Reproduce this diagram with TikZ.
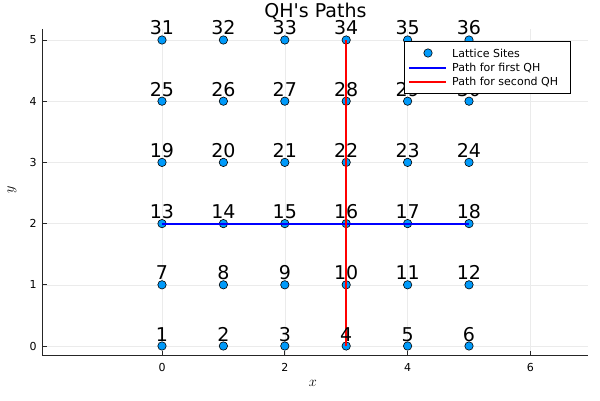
\documentclass[tikz,border=0pt]{standalone}
\usepackage{fontspec}
\setmainfont{DejaVu Sans}[Ligatures=TeXOff]
\definecolor{siteblue}{HTML}{009AFA}
\begin{document}
\begin{tikzpicture}[x=1pt,y=1pt,
  site/.style={circle,draw=black,line width=0.6pt,fill=siteblue,minimum size=8.4pt,inner sep=0pt},
  lab/.style={anchor=base,inner sep=0pt,font=\fontsize{19}{20}\selectfont},
  gridline/.style={draw=black!8,line width=0.6pt},
  axisline/.style={draw=black!85,line width=0.9pt},
  ticklab/.style={font=\fontsize{11}{12}\selectfont,inner sep=0pt},
  pathA/.style={draw=blue,line width=2pt},
  pathB/.style={draw=red,line width=2pt},
  legbox/.style={draw=black,fill=white,line width=0.8pt,minimum width=166pt,minimum height=52pt,inner sep=0pt},
  legtext/.style={anchor=west,inner sep=0pt,font=\fontsize{11}{12}\selectfont}]
\useasboundingbox (0,0) rectangle (600,400);
\node[font=\fontsize{19}{20}\selectfont] (title) at (315.5,388) {QH's Paths};
\begin{scope}[shift={(162pt,54pt)},x=61.4pt,y=61.2pt]
  % grid
  \foreach \gx in {0,2,4,6} \draw[gridline] (\gx,-0.147) -- (\gx,5.18);
  \foreach \gy in {0,...,5} \draw[gridline] (-1.94,\gy) -- (6.94,\gy);
  % axes
  \coordinate (o) at (-1.94,-0.147);
  \coordinate (xe) at (6.94,-0.147);
  \coordinate (ye) at (-1.94,5.18);
  \draw[axisline] (ye) -- (o) -- (xe);
  \foreach \gx in {0,2,4,6} {
    \draw[axisline] (\gx,-0.147) -- ++(0,4pt);
    \node[ticklab] (xt\gx) at ([yshift=-12pt]\gx,-0.147) {\gx};
  }
  \foreach \gy in {0,...,5} {
    \draw[axisline] (-1.94,\gy) -- ++(4pt,0);
    \node[ticklab,anchor=east] (yt\gy) at ([xshift=-6pt]-1.94,\gy) {\gy};
  }
  % sites
  \foreach \i in {0,...,5} \foreach \j in {0,...,5} {
    \pgfmathtruncatemacro\n{\j*6+\i+1}
    \node[site] (p\n) at (\i,\j) {};
  }
  % paths
  \draw[pathA] (p13.center) -- (p18.center);
  \draw[pathB] (p4.center) -- (p34.center);
  % labels
  \foreach \n in {1,...,36} \node[lab] (l\n) at ([yshift=5pt]p\n.center) {\n};
\end{scope}
\node[font=\fontsize{15}{16}\selectfont] (xlab) at (313,17) {$x$};
\node[font=\fontsize{15}{16}\selectfont,rotate=90] (ylab) at (12,210) {$y$};
% legend
\node[legbox] (leg) at (487,333) {};
\node[site] (lm) at (428,347) {};
\node[legtext] (lt1) at (452,347) {Lattice Sites};
\coordinate (a1) at (409,332); \coordinate (a2) at (446,332);
\draw[pathA] (a1) -- (a2);
\node[legtext] (lt2) at (452,332) {Path for first QH};
\coordinate (b1) at (409,318); \coordinate (b2) at (446,318);
\draw[pathB] (b1) -- (b2);
\node[legtext] (lt3) at (452,318) {Path for second QH};
\end{tikzpicture}
\end{document}
